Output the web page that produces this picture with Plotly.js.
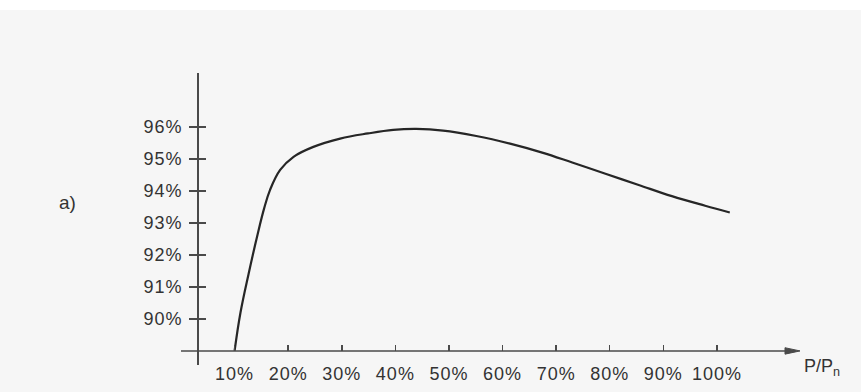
<!DOCTYPE html>
<html>
<head>
<meta charset="utf-8">
<script src="https://cdn.plot.ly/plotly-3.0.1.min.js"></script>
<style>
html,body{margin:0;padding:0;background:#f6f6f6;}
#chart{width:861px;height:392px;}
.xtick text,.ytick text{letter-spacing:1px;}
</style>
</head>
<body>
<div id="chart"></div>
<script>
// Load ratio P/Pn (%) and efficiency (%)
const loadPct = [10, 11.1, 12.6, 14.3, 15.5, 16.6, 18.5, 21, 24.7, 29.7, 34.9, 39.6, 43.9, 48.9, 55.1, 61.4, 67.4, 73, 79.2, 85.4, 91.6, 97.8, 102.4];
const efficiencyPct = [89.0, 90.2, 91.4, 92.65, 93.45, 94.03, 94.66, 95.07, 95.38, 95.64, 95.8, 95.91, 95.94, 95.89, 95.72, 95.48, 95.2, 94.89, 94.54, 94.19, 93.84, 93.54, 93.33];

const xTickVals = [10, 20, 30, 40, 50, 60, 70, 80, 90, 100];
const xTickText = ['10%', '20%', '30%', '40%', '50%', '60%', '70%', '80%', '90%', '100%'];
const yTickVals = [90, 91, 92, 93, 94, 95, 96];
const yTickText = ['90%', '91%', '92%', '93%', '94%', '95%', '96%'];

const inkAxis = '#4a4a4a';
const inkText = '#333333';
const font = {family: 'Liberation Sans, Arial, sans-serif', size: 18, color: inkText};

const xMin = 0, xMax = 115.5;
const yMin = 88.56, yMax = 97.69;
const xAxisAt = 89;   // value of y where the x axis runs
const yAxisAt = 3;    // value of x where the y axis runs
const arrowLen = 2.8; // arrow head length in x units
const arrowHalf = 0.1; // arrow head half width in y units

const traces = [{
  x: loadPct,
  y: efficiencyPct,
  type: 'scatter',
  mode: 'lines',
  line: {color: '#262626', width: 2.2, shape: 'spline', smoothing: 1.1},
  hoverinfo: 'skip',
  showlegend: false
}, {
  x: [yAxisAt], y: [yMin], xaxis: 'x', yaxis: 'y2',
  mode: 'markers', marker: {opacity: 0}, showlegend: false, hoverinfo: 'skip'
}];

const layout = {
  width: 861, height: 392,
  margin: {l: 181, r: 61, t: 73, b: 27, pad: 0},
  paper_bgcolor: '#f6f6f6',
  plot_bgcolor: 'rgba(0,0,0,0)',
  font: font,
  showlegend: false,
  xaxis: {
    range: [xMin, xMax],
    anchor: 'free',
    position: (xAxisAt - yMin) / (yMax - yMin),
    showline: false, showgrid: false, zeroline: false,
    tickmode: 'array', tickvals: xTickVals, ticktext: xTickText,
    ticks: 'inside', ticklen: 6, tickwidth: 1.5, tickcolor: inkAxis,
    ticklabelstandoff: 10,
    tickfont: font
  },
  yaxis: {
    range: [yMin, yMax],
    anchor: 'free',
    position: (yAxisAt - xMin) / (xMax - xMin),
    showline: true, linecolor: inkAxis, linewidth: 1.5,
    showgrid: false, zeroline: false,
    tickmode: 'array', tickvals: yTickVals, ticktext: yTickText,
    ticks: 'outside', ticklen: 8, tickwidth: 1.5, tickcolor: inkAxis,
    ticklabelstandoff: 3,
    tickfont: font
  },
  yaxis2: {
    overlaying: 'y', matches: 'y',
    anchor: 'free',
    position: (yAxisAt - xMin) / (xMax - xMin),
    showline: false, showgrid: false, zeroline: false,
    tickmode: 'array', tickvals: yTickVals,
    ticks: 'inside', ticklen: 8, tickwidth: 1.5, tickcolor: inkAxis,
    showticklabels: false
  },
  shapes: [
    {type: 'rect', xref: 'paper', yref: 'paper', x0: -0.3, x1: 1.2, y0: 1.216, y1: 1.3,
     fillcolor: '#ffffff', line: {width: 0}, layer: 'below'},
    {type: 'line', xref: 'x', yref: 'y', x0: xMin, x1: xMax - arrowLen * 0.5, y0: xAxisAt, y1: xAxisAt,
     line: {color: inkAxis, width: 1.5}},
    {type: 'path', xref: 'x', yref: 'y',
     path: 'M ' + (xMax - arrowLen) + ',' + (xAxisAt + arrowHalf) + ' L ' + xMax + ',' + xAxisAt +
           ' L ' + (xMax - arrowLen) + ',' + (xAxisAt - arrowHalf) + ' Z',
     fillcolor: inkAxis, line: {color: inkAxis, width: 1}}
  ],
  annotations: [
    {x: -0.2, y: 0.555, xref: 'paper', yref: 'paper', xanchor: 'left', yanchor: 'middle',
     text: 'a)', showarrow: false, font: {family: font.family, size: 19, color: inkText}},
    {x: 1.003, y: -0.01, xref: 'paper', yref: 'paper', xanchor: 'left', yanchor: 'middle',
     text: 'P/P<sub>n</sub>', showarrow: false, font: {family: font.family, size: 18, color: inkText}}
  ]
};

Plotly.newPlot('chart', traces, layout, {staticPlot: true, displayModeBar: false});
</script>
</body>
</html>
